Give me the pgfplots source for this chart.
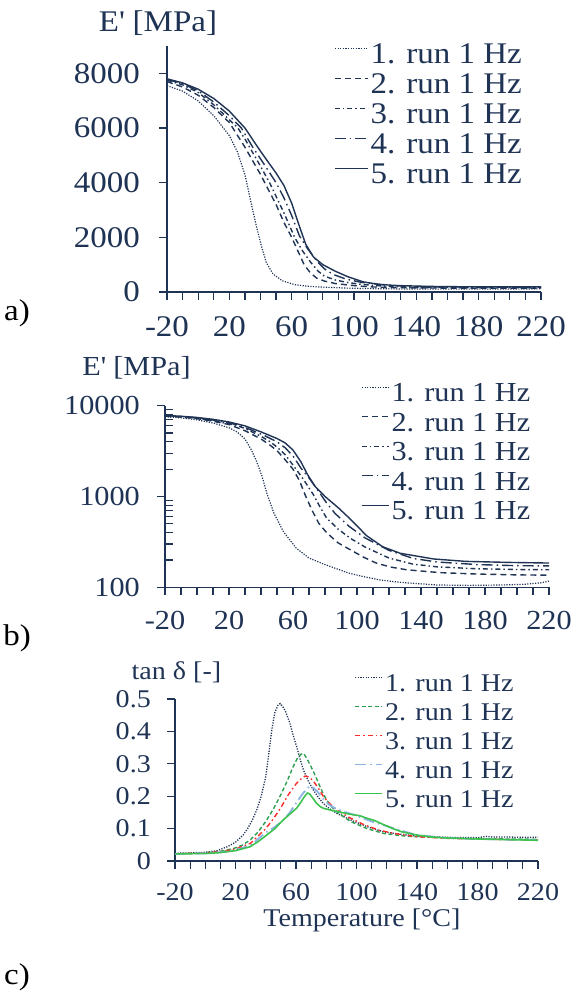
\documentclass[border=0pt]{standalone}
\usepackage{fontspec}
\setmainfont{Liberation Serif}[FakeStretch=1.1]
\usepackage{pgfplots}
\usepackage{pgfplotstable}
\pgfplotsset{compat=1.18}
\definecolor{navy}{HTML}{1F3355}
\definecolor{dgreen}{HTML}{2E9E50}
\definecolor{lred}{HTML}{FF2A2A}
\definecolor{lblue}{HTML}{8CB3E2}
\definecolor{lgreen}{HTML}{3CC24E}
\newcommand\fsA{\fontsize{30}{34}\selectfont}
\newcommand\fsB{\fontsize{27.5}{31}\selectfont}
\newcommand\fsC{\fontsize{25.5}{29}\selectfont}

% storage modulus E' [MPa] vs temperature [C]
\pgfplotstableread{
T E
-20 7550
-10 7350
0 6990
10 6450
20 5720
25 5150
30 4300
34 3250
37.3 2420
40.5 1700
43.7 1080
48 660
54 410
62 270
70 210
80 178
95 143
105 130
115 120
128 113
150 106
170 105
190 106
205 108
215 112
220 117
}\eA
\pgfplotstableread{
T E
-20 7700
-10 7500
0 7200
10 6750
20 6200
30 5300
40 4300
45 3750
50 3200
55 2550
60 2000
64 1500
68 1000
72 700
76 510
81 400
88 310
96 258
104 215
112 185
121 167
131 156
152 145
175 140
200 137
220 136
}\eB
\pgfplotstableread{
T E
-20 7750
-10 7580
0 7300
10 6850
20 6300
25.5 6000
30 5600
40 4600
45.8 4000
50 3500
55 2900
61.9 2000
67 1500
72.7 1050
77 760
81 580
88 440
96 345
105 278
120 210
135 180
150 168
175 160
200 157
220 156
}\eC
\pgfplotstableread{
T E
-20 7780
-10 7620
0 7360
10 6950
20 6450
27.7 6000
35 5300
42 4700
50 4000
55 3450
60 2800
65 2050
70 1600
76.9 1080
81 850
86.3 650
95 470
105 350
120 255
135 208
150 190
175 178
200 173
220 172
}\eD
\pgfplotstableread{
T E
-20 7800
-10 7650
0 7420
10 7080
20 6620
30 6000
40 5150
50 4350
55 3900
60 3250
65 2400
69 1750
74 1280
80 1000
88 760
96 560
106 370
116 280
127 237
148 205
168 193
195 188
220 185
}\eE
% tan delta
\pgfplotstableread{
T d
-20 0.024
-10 0.025
0 0.027
8 0.032
15 0.045
20 0.058
25 0.080
28 0.100
31 0.125
34 0.157
37 0.200
40 0.260
42 0.330
44 0.405
46 0.458
48 0.480
49.5 0.486
51 0.478
53 0.463
56 0.425
58 0.390
60.5 0.352
63 0.310
65 0.280
68 0.248
71.5 0.219
75 0.195
78 0.178
82 0.162
87 0.147
96 0.127
107 0.106
118 0.090
128 0.083
140 0.077
160 0.073
180 0.072
186 0.076
190 0.074
200 0.074
210 0.073
220 0.073
}\tA
\pgfplotstableread{
T d
-20 0.022
0 0.025
10 0.030
19 0.039
25 0.050
30 0.066
35 0.090
40 0.122
45 0.160
50 0.205
54 0.245
58 0.290
61 0.318
63.5 0.330
65 0.332
67 0.318
69 0.300
71.5 0.276
74 0.250
76 0.228
78 0.208
80 0.190
84 0.165
87 0.152
96 0.122
107 0.100
118 0.085
130 0.078
140 0.075
160 0.071
180 0.069
200 0.068
220 0.067
}\tB
\pgfplotstableread{
T d
-20 0.022
0 0.025
10 0.029
20 0.037
30 0.055
40 0.100
45 0.130
50 0.165
55 0.205
60 0.238
63 0.252
66 0.262
68 0.260
71 0.250
74 0.230
78 0.200
82 0.178
87 0.157
95 0.135
105 0.112
115 0.095
125 0.085
140 0.075
160 0.070
180 0.068
200 0.066
220 0.065
}\tC
\pgfplotstableread{
T d
-20 0.022
0 0.024
10 0.027
20 0.034
30 0.048
40 0.088
46 0.105
52 0.128
56 0.150
60 0.178
64 0.205
67 0.222
69 0.230
71 0.228
74 0.215
78 0.192
82 0.173
87 0.160
92 0.152
100 0.140
110 0.122
120 0.108
128 0.096
140 0.080
160 0.071
180 0.068
200 0.066
220 0.065
}\tD
\pgfplotstableread{
T d
-20 0.022
0 0.023
10 0.026
20 0.032
29.6 0.044
35 0.060
40.6 0.080
46 0.100
51.6 0.127
56 0.145
60.4 0.163
63 0.180
65 0.195
67.5 0.210
69 0.207
71 0.195
73.6 0.178
76 0.168
78 0.163
82 0.158
87 0.153
95 0.145
102 0.140
107 0.132
112 0.125
118 0.112
124 0.100
130 0.090
140 0.080
150 0.074
160 0.071
180 0.068
200 0.066
220 0.064
}\tE

\pgfplotsset{
  base/.style={
    scale only axis, axis lines=left,
    axis line style={-, navy, line width=1.5pt},
    xmin=-20, xmax=220,
    xtick={-20,20,...,220}, xticklabels={-20,20,60,100,140,180,220},
    minor xtick={-10,0,10,30,40,50,70,80,90,110,120,130,150,160,170,190,200,210},
    tick align=outside, major tick length=8pt, minor tick length=8pt,
    tick style={navy, line width=1.2pt},
    tick label style={text=navy, inner sep=0pt},
    legend cell align=left,
    legend style={draw=none, fill=none, anchor=north west, text=navy, row sep=0pt,
      /tikz/every odd column/.style={column sep=2pt}},
  },
  s1/.style={navy, line width=1.2pt, dash pattern=on 1.2pt off 1.4pt},
  s2/.style={navy, line width=1.4pt, dash pattern=on 6pt off 4pt},
  s3/.style={navy, line width=1.4pt, dash pattern=on 5pt off 3pt on 1.5pt off 3pt},
  s4/.style={navy, line width=1.4pt, dash pattern=on 11pt off 4pt on 1.5pt off 4pt},
  s5/.style={navy, line width=1.4pt},
}

\begin{document}
\begin{tikzpicture}
\useasboundingbox (0pt,0pt) rectangle (570pt,-992pt);

% ---------- a) ----------
\begin{axis}[base, at={(167pt,-292pt)}, anchor=south west,
  width=374pt, height=246pt,
  ymin=0, ymax=9000, ytick={0,2000,4000,6000,8000},
  yticklabels={0,2000,4000,6000,8000},
  tick label style={font=\fsA},
  xticklabel style={anchor=base, yshift=-36pt},
  yticklabel style={anchor=east, xshift=-19pt},
  ylabel={E\textquotesingle{} [MPa]},
  every axis y label/.style={at={(axis description cs:-0.024,1.093)}, anchor=center, font=\fsA, text=navy},
  legend style={at={(axis description cs:0.4385,1.023)}, font=\fsA,
    nodes={inner sep=0pt, text height=21pt, text depth=9pt}},
  legend image code/.code={\draw[#1] (0pt,9pt) -- (33pt,9pt);},
]
\addplot[s1] table[x=T,y=E] {\eA};
\addplot[s2] table[x=T,y=E] {\eB};
\addplot[s3] table[x=T,y=E] {\eC};
\addplot[s4] table[x=T,y=E] {\eD};
\addplot[s5] table[x=T,y=E] {\eE};
\legend{1. run 1 Hz, 2. run 1 Hz, 3. run 1 Hz, 4. run 1 Hz, 5. run 1 Hz}
\end{axis}

% ---------- b) ----------
\begin{axis}[base, at={(165pt,-587.3pt)}, anchor=south west,
  width=384pt, height=181.6pt,
  ymode=log, ymin=100, ymax=10000, ytick={100,1000,10000},
  yticklabels={100,1000,10000},
  yminorticks=false,
  extra y ticks={200,300,400,500,600,700,800,900,2000,3000,4000,5000,6000,7000,8000,9000},
  extra y tick labels={},
  extra y tick style={tick align=inside, major tick length=8pt},
  tick label style={font=\fsB},
  xticklabel style={anchor=base, yshift=-34pt},
  yticklabel style={anchor=east, xshift=-17pt},
  ylabel={E\textquotesingle{} [MPa]},
  every axis y label/.style={at={(axis description cs:-0.074,1.208)}, anchor=center, font=\fsB, text=navy},
  legend style={at={(axis description cs:0.5026,1.148)}, font=\fsB,
    nodes={inner sep=0pt, text height=20.6pt, text depth=8.9pt}},
  legend image code/.code={\draw[#1] (0pt,8.5pt) -- (27pt,8.5pt);},
]
\addplot[s1] table[x=T,y=E] {\eA};
\addplot[s2] table[x=T,y=E] {\eB};
\addplot[s3] table[x=T,y=E] {\eC};
\addplot[s4] table[x=T,y=E] {\eD};
\addplot[s5] table[x=T,y=E] {\eE};
\legend{1. run 1 Hz, 2. run 1 Hz, 3. run 1 Hz, 4. run 1 Hz, 5. run 1 Hz}
\end{axis}

% ---------- c) ----------
\begin{axis}[base, at={(175pt,-861pt)}, anchor=south west,
  width=363pt, height=162pt,
  ymin=0, ymax=0.5, ytick={0,0.1,0.2,0.3,0.4,0.5},
  yticklabels={0,0.1,0.2,0.3,0.4,0.5},
  tick label style={font=\fsC},
  xticklabel style={anchor=base, yshift=-31pt},
  yticklabel style={anchor=east, xshift=-16pt},
  ylabel={tan δ [-]},
  every axis y label/.style={at={(axis description cs:0.004,1.167)}, anchor=center, font=\fsC, text=navy},
  xlabel={Temperature [°C]},
  every axis x label/.style={at={(axis description cs:0.515,-0.364)}, anchor=center, font=\fsC, text=navy},
  legend style={at={(axis description cs:0.485,1.187)}, font=\fsC,
    nodes={inner sep=0pt, text height=20.3pt, text depth=8.7pt}},
  legend image code/.code={\draw[#1] (0pt,8pt) -- (27pt,8pt);},
]
\addplot[navy, line width=1.3pt, dash pattern=on 1.2pt off 1.4pt] table[x=T,y=d] {\tA};
\addplot[dgreen, line width=1.4pt, dash pattern=on 4pt off 2.5pt] table[x=T,y=d] {\tB};
\addplot[lred, line width=1.4pt, dash pattern=on 5pt off 3pt on 1.5pt off 3pt] table[x=T,y=d] {\tC};
\addplot[lblue, line width=1.8pt, dash pattern=on 11pt off 4pt on 1.5pt off 4pt] table[x=T,y=d] {\tD};
\addplot[lgreen, line width=1.6pt] table[x=T,y=d] {\tE};
\legend{1. run 1 Hz, 2. run 1 Hz, 3. run 1 Hz, 4. run 1 Hz, 5. run 1 Hz}
\end{axis}

\node[text=black, font=\fsA] at (17pt,-313pt) {a)};
\node[text=black, font=\fsA] at (17pt,-638pt) {b)};
\node[text=black, font=\fsA] at (17pt,-977pt) {c)};
\end{tikzpicture}
\end{document}
